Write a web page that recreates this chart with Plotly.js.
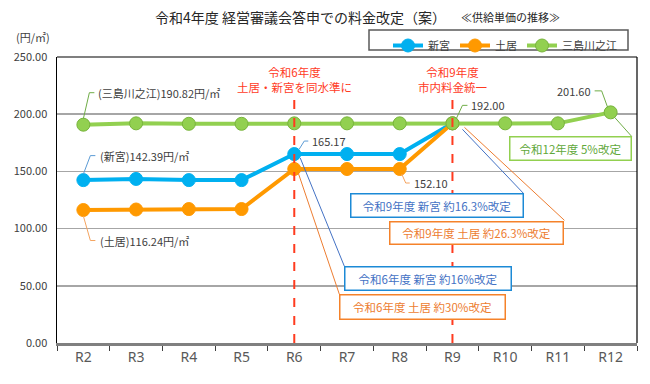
<!DOCTYPE html>
<html><head><meta charset="utf-8">
<script src="https://cdn.plot.ly/plotly-3.0.1.min.js"></script>
<style>html,body{margin:0;padding:0;background:#fff;}#c{width:650px;height:384px;}</style>
</head><body><div id="c"></div>
<script>
const years = ['R2','R3','R4','R5','R6','R7','R8','R9','R10','R11','R12'];
const shingu = [142.39,143.4,142.4,142.4,165.17,165.17,165.17,192.00,null,null,null];
const doi = [116.24,116.7,117.1,117.1,152.10,152.10,152.10,192.00,null,null,null];
const mishima = [190.82,192.0,191.6,191.6,192.00,192.00,192.00,192.00,192.00,192.00,201.60];
const seriesNames = ['新宮','土居','三島川之江'];
const yTicks = [0,50,100,150,200,250];

const F = '"Noto Sans CJK JP", "Noto Sans", sans-serif';
const FL = '"Noto Sans", "Noto Sans CJK JP", sans-serif';
const L=57, R=13, T=57, B=41, W=650, H=384;
const PX = p => (p-L)/(W-L-R);
const PY = p => (H-B-p)/(H-T-B);

const C_BLUE='#00B0F0', C_OR='#FF9900', C_GR='#92D050';

function mk(y, name, color, lineCol){
  return {x: years, y: y, name: name, type:'scatter', mode:'lines+markers',
    line:{color:color,width:4}, marker:{size:13,color:color,line:{color:lineCol,width:1}},
    connectgaps:false, hoverinfo:'none'};
}
const data = [mk(shingu,seriesNames[0],C_BLUE,C_BLUE), mk(doi,seriesNames[1],C_OR,C_OR), mk(mishima,seriesNames[2],C_GR,'#78B43C')];

const iR6 = years.indexOf('R6'), iR8 = years.indexOf('R8'), iR9 = years.indexOf('R9'), iR12 = years.indexOf('R12');

function lead(xi, yv, pts, color){
  const out=[];
  for(let k=0;k<pts.length-1;k++){
    out.push({type:'line', xref:'x', yref:'y', xsizemode:'pixel', ysizemode:'pixel',
      xanchor:xi, yanchor:yv, x0:pts[k][0], y0:pts[k][1], x1:pts[k+1][0], y1:pts[k+1][1],
      line:{color:color,width:1}, layer:'above'});
  }
  return out;
}
const shapes = [
  {type:'line', xref:'paper', yref:'paper', x0:0, x1:1, y0:1, y1:1, line:{color:'#000',width:1.2}},
  {type:'line', xref:'paper', yref:'paper', x0:1, x1:1, y0:0, y1:1, line:{color:'#000',width:1.2}},
  {type:'line', xref:'x', yref:'y', x0:'R6', x1:'R6', y0:0, y1:213, line:{color:'#FF3B1F',width:2,dash:'dash'}},
  {type:'line', xref:'x', yref:'y', x0:'R9', x1:'R9', y0:0, y1:213, line:{color:'#FF3B1F',width:2,dash:'dash'}},
  {type:'rect', xref:'paper', yref:'paper', x0:PX(369), x1:PX(628), y0:PY(50), y1:PY(30), line:{color:'#595959',width:1.5}, fillcolor:'rgba(0,0,0,0)'},
  ...lead(0, mishima[0], [[0,6],[6,32],[11,32]], '#70AD47'),
  ...lead(0, shingu[0], [[0,6],[7,24.5],[12,24.5]], '#5B9BD5'),
  ...lead(0, doi[0], [[0,-6],[7,-30.5],[12,-30.5]], '#F4A460'),
  ...lead(iR6, shingu[iR6], [[5,5],[10,13],[14,13]], '#5B9BD5'),
  ...lead(iR8, doi[iR8], [[2,-5],[6,-14],[10,-14]], '#F4A460'),
  ...lead(iR9, mishima[iR9], [[4,5],[10,18],[15,18]], '#70AD47'),
  ...lead(iR12, mishima[iR12], [[-3,5],[-9,21.5],[-16,21.5]], '#70AD47'),
  ...lead(iR12, mishima[iR12], [[4,-5],[21,-24]], '#70AD47'),
  ...lead(iR9, mishima[iR9], [[10,-6],[71,-70]], '#4472C4'),
  ...lead(iR9, mishima[iR9], [[12,-4],[112,-97]], '#ED7D31'),
  ...lead(iR6, shingu[iR6], [[6,-4],[50,-112]], '#4472C4'),
  ...lead(iR6, doi[iR6], [[4,-4],[45,-125]], '#ED7D31')
];

const lab = {family:F, size:11, color:'#404040'};
function dl(xi, yv, text, xs, ys, xa){
  return {xref:'x', yref:'y', x:xi, y:yv, text:text, showarrow:false, xanchor:xa||'left', yanchor:'middle', xshift:xs, yshift:ys, font:lab};
}
function box(cx, cy, w, h, text, border, col){
  return {xref:'paper', yref:'paper', x:PX(cx), y:PY(cy), xanchor:'center', yanchor:'middle', text:text, showarrow:false,
    width:w-5, height:h-5, borderpad:1, borderwidth:1.5, bordercolor:border, bgcolor:'#fff', align:'center', valign:'middle',
    font:{family:F, size:11.5, color:col}};
}
const annotations = [
  {xref:'paper', yref:'paper', x:PX(300), y:PY(17), xanchor:'center', yanchor:'middle', showarrow:false,
   text:'令和4年度 経営審議会答申での料金改定（案）', font:{family:F,size:14,color:'#262626'}},
  {xref:'paper', yref:'paper', x:PX(459), y:PY(17), xanchor:'left', yanchor:'middle', showarrow:false,
   text:'≪供給単価の推移≫', font:{family:F,size:11,color:'#262626'}},
  {xref:'paper', yref:'paper', x:PX(33), y:PY(37), xanchor:'center', yanchor:'middle', showarrow:false,
   text:'(円/㎡)', font:{family:F,size:11,color:'#404040'}},
  dl(0, mishima[0], '(三島川之江)190.82円/㎡', 13, 32),
  dl(0, shingu[0], '(新宮)142.39円/㎡', 15, 24.5),
  dl(0, doi[0], '(土居)116.24円/㎡', 15, -30.5),
  dl(iR6, shingu[iR6], shingu[iR6].toFixed(2), 16, 13),
  dl(iR8, doi[iR8], doi[iR8].toFixed(2), 12, -14),
  dl(iR9, mishima[iR9], mishima[iR9].toFixed(2), 17, 18),
  dl(iR12, mishima[iR12], mishima[iR12].toFixed(2), -18, 21.5, 'right'),
  {xref:'x', yref:'y', x:'R6', y:213, yanchor:'bottom', xanchor:'center', showarrow:false, yshift:2,
   text:'令和6年度<br>土居・新宮を同水準に', font:{family:F,size:11.5,color:'#FF3B1F'}},
  {xref:'x', yref:'y', x:'R9', y:213, yanchor:'bottom', xanchor:'center', showarrow:false, yshift:2,
   text:'令和9年度<br>市内料金統一', font:{family:F,size:11.5,color:'#FF3B1F'}},
  box(570.5,148.5,123,25,'令和12年度 5%改定','#92D050','#5FA83A'),
  box(437,205.5,174,25,'令和9年度 新宮 約16.3%改定','#1C8AD6','#4472C4'),
  box(476.5,232.5,175,24,'令和9年度 土居 約26.3%改定','#F5822A','#ED7D31'),
  box(428,278.5,168,25,'令和6年度 新宮 約16%改定','#1C8AD6','#4472C4'),
  box(422.5,307,167,26,'令和6年度 土居 約30%改定','#F5822A','#ED7D31')
];

const layout = {
  width:W, height:H, margin:{l:L,r:R,t:T,b:B}, paper_bgcolor:'#fff', plot_bgcolor:'#fff',
  font:{family:F},
  showlegend:true,
  legend:{orientation:'h', x:PX(388), y:PY(31), xanchor:'left', yanchor:'top', bgcolor:'rgba(0,0,0,0)',
    font:{family:F,size:11,color:'#404040'}, borderwidth:0, itemwidth:30, tracegroupgap:0},
  xaxis:{type:'category', categoryorder:'array', categoryarray:years, range:[-0.5,10.5],
    showline:true, linecolor:'#808080', linewidth:2.5, ticks:'outside', ticklen:5, tickcolor:'#404040', tickwidth:1,
    tickson:'boundaries', showgrid:false, tickfont:{family:FL,size:14,color:'#595959'}, fixedrange:true},
  yaxis:{range:[0,250], tickvals:yTicks, tickformat:'.2f', showline:true, linecolor:'#000', linewidth:1.5,
    showgrid:true, gridcolor:'#A6A6A6', gridwidth:1.5, zeroline:false, ticks:'', ticklabelstandoff:6,
    tickfont:{family:F,size:11,color:'#404040'}, fixedrange:true},
  shapes:shapes, annotations:annotations
};
Plotly.newPlot('c', data, layout, {staticPlot:true, displayModeBar:false});
</script></body></html>
